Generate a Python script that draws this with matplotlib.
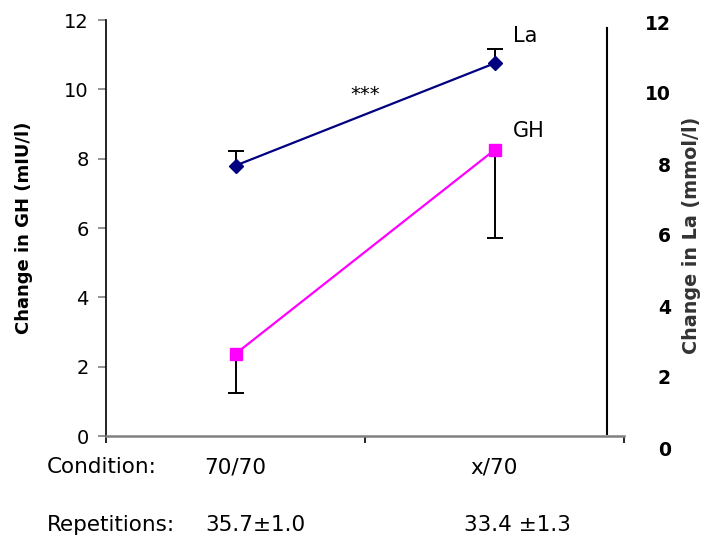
import matplotlib
matplotlib.use("Agg")
import matplotlib.pyplot as plt
import matplotlib.transforms as mtransforms
from matplotlib.lines import Line2D
import numpy as np

# conditions and repetitions
conditions = ["70/70", "x/70"]
repetitions = ["35.7\u00b11.0", "33.4 \u00b11.3"]

# lactate (La) and growth hormone (GH) changes
la_mean = [7.80, 10.75]
la_err_up = [0.43, 0.40]
gh_mean = [2.37, 8.25]
gh_err_down = [1.14, 2.55]

left_ticks = [0, 2, 4, 6, 8, 10, 12]
right_ticks = [0, 2, 4, 6, 8, 10, 12]

plt.rcParams['font.family'] = ['DejaVu Sans']

fig = plt.figure(figsize=(7.06, 5.39), dpi=100)
ax = fig.add_axes([106 / 706, 1 - 436 / 539, 518 / 706, 416 / 539])

x = np.arange(len(conditions))

# error bars first (one-sided)
ax.vlines(x, la_mean, np.add(la_mean, la_err_up), color='black', lw=1.4, zorder=2)
ax.plot(x, np.add(la_mean, la_err_up), ls='none', marker='_', ms=11, mew=1.4,
        color='black', zorder=2)
ax.vlines(x, np.subtract(gh_mean, gh_err_down), gh_mean, color='black', lw=1.4, zorder=2)
ax.plot(x, np.subtract(gh_mean, gh_err_down), ls='none', marker='_', ms=11, mew=1.4,
        color='black', zorder=2)

ax.plot(x, la_mean, color='#000080', lw=1.6, marker='D', ms=7.5, zorder=3)
ax.plot(x, gh_mean, color='#FF00FF', lw=1.6, marker='s', ms=8, zorder=3)

# series names next to last point
ax.annotate("La", (x[-1], la_mean[-1]), xytext=(13, 20), textcoords='offset points',
            fontsize=15, va='center', ha='left')
ax.annotate("GH", (x[-1], gh_mean[-1]), xytext=(13, 14), textcoords='offset points',
            fontsize=15, va='center', ha='left')
ax.text(0.5, 9.85, "***", fontsize=14, ha='center', va='center')

ax.set_xlim(-0.5, 1.5)
ax.set_ylim(0, 12)
ax.set_yticks(left_ticks)
ax.set_yticklabels([str(t) for t in left_ticks], fontsize=14)
ax.tick_params(axis='y', length=5.5, width=1.2, color='#808080', pad=7)
ax.set_xticks([-0.5, 0.5, 1.5])
ax.set_xticklabels([])
ax.tick_params(axis='x', length=5, width=1.2, color='black')

for s in ['top', 'right']:
    ax.spines[s].set_visible(False)
ax.spines['left'].set_color('black')
ax.spines['left'].set_linewidth(1.2)
ax.spines['bottom'].set_color('#808080')
ax.spines['bottom'].set_linewidth(1.8)

ax.set_ylabel("Change in GH (mIU/l)", fontsize=13, fontweight='bold')
ax.yaxis.set_label_coords(-0.14, 0.5)

# vertical line on the right side of the plot
ax.add_line(Line2D([0.967, 0.967], [0.005, 0.981], transform=ax.transAxes,
                   color='black', lw=1.5, clip_on=False))

# condition and repetition rows under the axis
trans = ax.get_xaxis_transform()
ax.text(-0.114, -0.075, "Condition:", transform=ax.transAxes, fontsize=15.5,
        ha='left', va='center')
ax.text(-0.114, -0.214, "Repetitions:", transform=ax.transAxes, fontsize=15.5,
        ha='left', va='center')
shift = mtransforms.ScaledTranslation(-30 / 100, 0, fig.dpi_scale_trans)
for i, (c, r) in enumerate(zip(conditions, repetitions)):
    ax.text(x[i], -0.075, c, transform=trans, fontsize=15.5, ha='center', va='center')
    ax.text(x[i], -0.214, r, transform=trans + shift, fontsize=15.5,
            ha='left', va='center')

# right-hand La scale
ax_r = fig.add_axes([675 / 706, 1 - 448 / 539, 0.01, (448 - 22) / 539])
ax_r.set_ylim(0, 12)
ax_r.set_yticks(right_ticks)
ax_r.set_yticklabels([str(t) for t in right_ticks], fontsize=13.5, fontweight='bold')
ax_r.tick_params(axis='y', length=0, pad=3)
ax_r.set_xticks([])
for s in ax_r.spines.values():
    s.set_visible(False)
ax_r.patch.set_visible(False)

fig.text(691.5 / 706, 1 - 235 / 539, "Change in La (mmol/l)", rotation=90,
         fontsize=13.8, fontweight='bold', color='#333333', ha='center', va='center')

fig.savefig("out.png", dpi=100)
